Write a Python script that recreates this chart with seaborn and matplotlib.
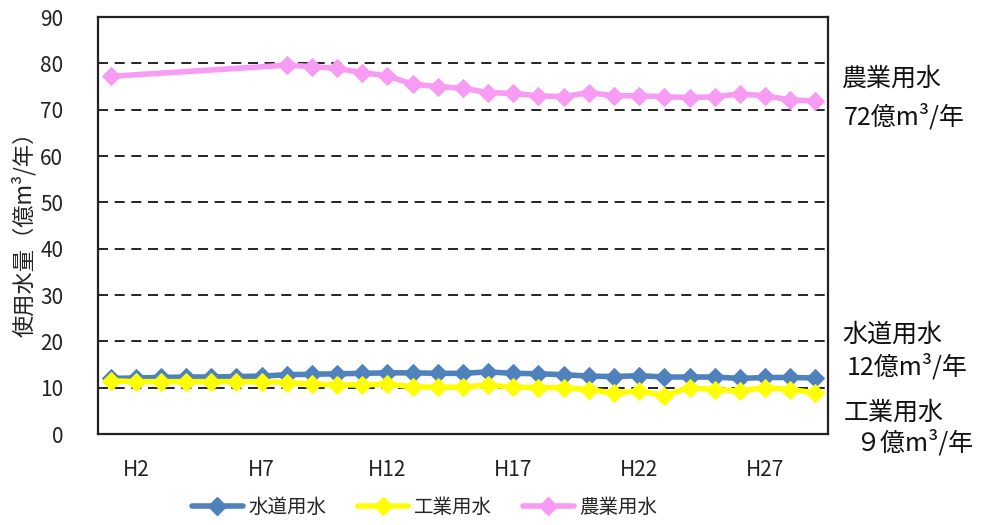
import matplotlib
matplotlib.use("Agg")
import matplotlib.pyplot as plt
import seaborn as sns
import pandas as pd
import numpy as np
from matplotlib.lines import Line2D

sns.set_style("white")
FONT = ["Noto Sans CJK JP", "DejaVu Sans"]
plt.rcParams["font.family"] = FONT

years = [f"H{i}" for i in range(1, 30)]
tick_years = ["H2", "H7", "H12", "H17", "H22", "H27"]

# 億m3/年
suido = [12.0, 12.1, 12.2, 12.3, 12.3, 12.4, 12.5, 12.8, 12.9, 13.0,
         13.1, 13.2, 13.2, 13.1, 13.1, 13.4, 13.1, 13.0, 12.8, 12.5,
         12.4, 12.6, 12.3, 12.3, 12.3, 12.0, 12.2, 12.2, 12.1]
kogyo = [11.5, 11.3, 11.3, 11.3, 11.3, 11.3, 11.3, 11.1, 10.8, 10.6,
         10.6, 10.8, 10.2, 10.1, 10.1, 10.6, 10.1, 10.0, 10.0, 9.6,
         8.8, 9.3, 8.3, 10.0, 9.6, 9.3, 10.0, 9.6, 8.9]
nogyo = [77.2, None, None, None, None, None, None, 79.6, 79.3, 78.9,
         78.0, 77.3, 75.5, 75.0, 74.6, 73.7, 73.5, 73.0, 72.8, 73.7,
         73.0, 73.0, 72.8, 72.6, 72.8, 73.4, 73.0, 72.1, 71.9]

series = ["水道用水", "工業用水", "農業用水"]
colors = {"水道用水": "#4F81BD", "工業用水": "#FFFF00", "農業用水": "#F79BF5"}

rows = []
for name, vals in zip(series, [suido, kogyo, nogyo]):
    for i, v in enumerate(vals):
        if v is not None:
            rows.append({"idx": i, "year": years[i], "value": v, "kind": name})
df = pd.DataFrame(rows)

fig = plt.figure(figsize=(9.88, 5.25), dpi=100)
ax = fig.add_axes([0.0992, 0.1733, 0.7388, 0.7943])

for name in series:
    sub = df[df["kind"] == name]
    sns.lineplot(data=sub, x="idx", y="value", ax=ax, color=colors[name],
                 linewidth=4, marker="D", markersize=9.5,
                 markeredgecolor=colors[name], legend=False)

ax.set_xlim(-0.5, len(years) - 0.5)
ax.set_ylim(0, 90)
ax.set_yticks(range(0, 91, 10))
ax.set_xticks([years.index(t) for t in tick_years])
ax.set_xticklabels(tick_years)
ax.tick_params(axis="both", length=0, labelsize=15, colors="#222222")
ax.tick_params(axis="x", pad=18)
ax.tick_params(axis="y", pad=25)
ax.set_xlabel("")
ax.set_ylabel("")

for y in range(10, 90, 10):
    ax.axhline(y, color="black", linewidth=1.2, linestyle=(0, (6, 4)), zorder=0.5)

for s in ax.spines.values():
    s.set_visible(True)
    s.set_color("#222222")
    s.set_linewidth(1.6)

fig.text(0.024, 0.565, "使用水量（億m³/年）", rotation=90, fontsize=16,
         ha="center", va="center", color="#222222")

notes = [
    (842, 79, "農業用水"), (844, 117, "72億m³/年"),
    (842, 335, "水道用水"), (847, 367, "12億m³/年"),
    (844, 413, "工業用水"), (855, 443, "９億m³/年"),
]
for px, py, txt in notes:
    fig.text(px / 988, 1 - py / 525, txt, fontsize=18, ha="left", va="center",
             color="#111111")

handles = [Line2D([], [], color=colors[n], linewidth=4, marker="D",
                  markersize=9.5, markeredgecolor=colors[n]) for n in series]
fig.legend(handles, series, loc="center", bbox_to_anchor=(0.43, 0.034),
           ncol=3, frameon=False, fontsize=14, handlelength=2.6,
           columnspacing=1.6, handletextpad=0.3)

fig.savefig("out.png", dpi=100)
